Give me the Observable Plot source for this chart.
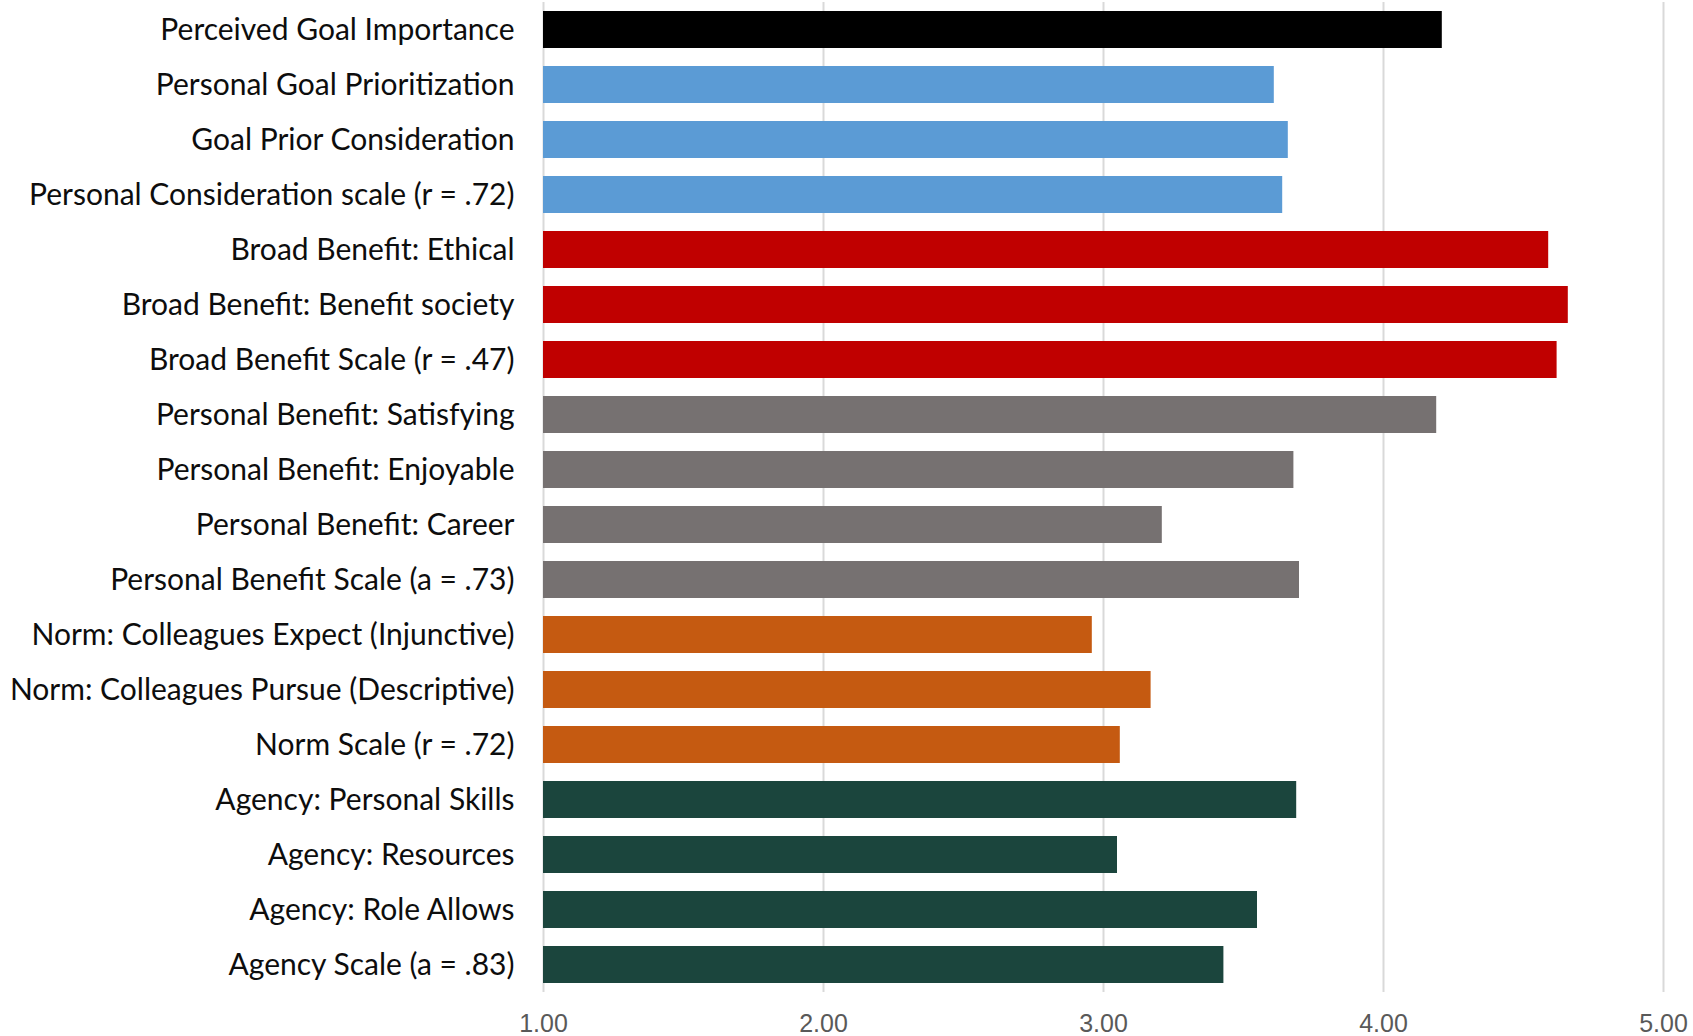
<!DOCTYPE html>
<html>
<head>
<meta charset="utf-8">
<script src="https://cdn.jsdelivr.net/npm/d3@7"></script>
<script src="https://cdn.jsdelivr.net/npm/@observablehq/plot@0.6"></script>
<style>
  html, body { margin: 0; padding: 0; background: #fff; }
  #chart svg { display: block; }
</style>
</head>
<body>
<div id="chart"></div>
<script>
const labels = [
  "Perceived Goal Importance",
  "Personal Goal Prioritization",
  "Goal Prior Consideration",
  "Personal Consideration scale (r = .72)",
  "Broad Benefit: Ethical",
  "Broad Benefit: Benefit society",
  "Broad Benefit Scale (r = .47)",
  "Personal Benefit: Satisfying",
  "Personal Benefit: Enjoyable",
  "Personal Benefit: Career",
  "Personal Benefit Scale (a = .73)",
  "Norm: Colleagues Expect (Injunctive)",
  "Norm: Colleagues Pursue (Descriptive)",
  "Norm Scale (r = .72)",
  "Agency: Personal Skills",
  "Agency: Resources",
  "Agency: Role Allows",
  "Agency Scale (a = .83)"
];
const values = [4.21, 3.61, 3.66, 3.64, 4.59, 4.66, 4.62, 4.19, 3.68, 3.21, 3.70, 2.96, 3.17, 3.06, 3.69, 3.05, 3.55, 3.43];
const groups = ["Importance", "Consideration", "Consideration", "Consideration",
  "Broad", "Broad", "Broad", "Personal", "Personal", "Personal", "Personal",
  "Norm", "Norm", "Norm", "Agency", "Agency", "Agency", "Agency"];
const groupNames = ["Importance", "Consideration", "Broad", "Personal", "Norm", "Agency"];
const groupColors = ["#000000", "#5B9BD5", "#C00000", "#767171", "#C55A11", "#1B453D"];
const xTicks = [1, 2, 3, 4, 5];

const data = labels.map((label, i) => ({label, value: values[i], group: groups[i]}));

const chart = Plot.plot({
  width: 1693,
  height: 1036,
  marginLeft: 543,
  marginRight: 30,
  marginTop: 2,
  marginBottom: 44,
  style: {background: "#fff"},
  x: {domain: [1, 5], ticks: xTicks, tickFormat: d3.format(".2f"), label: null},
  y: {domain: labels, padding: 0, label: null},
  color: {domain: groupNames, range: groupColors},
  marks: [
    Plot.ruleX(xTicks, {stroke: "#d9d9d9", strokeWidth: 2}),
    Plot.barX(data, {x1: 1, x2: "value", y: "label", fill: "group", insetTop: 9, insetBottom: 9}),
    Plot.axisX({ticks: xTicks, tickSize: 0, tickPadding: 22, tickFormat: d3.format(".2f"),
      fontSize: 25, fontFamily: "Liberation Sans, Arial, sans-serif", fill: "#595959", label: null}),
    Plot.axisY({tickSize: 0, tickPadding: 29, fontSize: 30, fontFamily: "Lato, sans-serif",
      fill: "#0d0d0d", label: null, textOverflow: null})
  ]
});
document.getElementById("chart").appendChild(chart);
</script>
</body>
</html>
